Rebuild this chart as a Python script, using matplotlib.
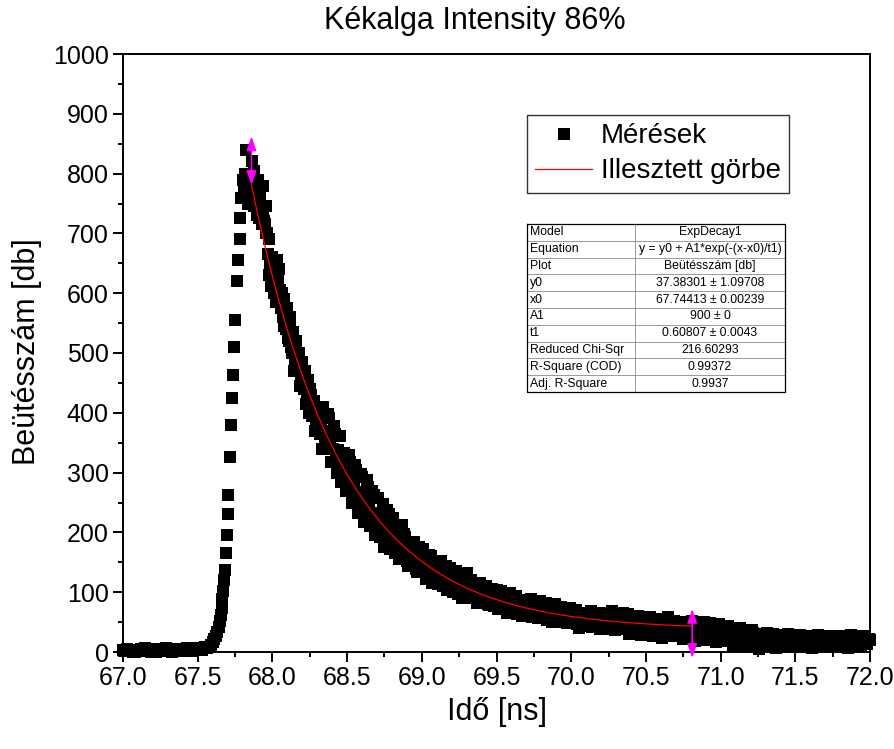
import numpy as np
import matplotlib
matplotlib.use("Agg")
import matplotlib.pyplot as plt
from matplotlib.lines import Line2D
from matplotlib.patches import ArrowStyle

plt.rcParams['font.family'] = ['Liberation Sans', 'DejaVu Sans']

# ---------------- data ----------------
title = "Kékalga Intensity 86%"
xlabel = "Idő [ns]"
ylabel = "Beütésszám [db]"

# baseline: 67.00 .. 67.56, step 0.02 ns
base_start, base_step = 67.00, 0.02
base_counts = [3, 1, 4, 2, 0, 3, 5, 2, 1, 4, 3, 0, 2, 5, 3, 1, 4, 2, 3, 5,
               2, 4, 3, 2, 4, 5, 6, 6, 7]
# baseline, interleaved channels: 67.01 .. 67.57
base2_start = 67.01
base2_counts = [1, 5, 2, 0, 4, 1, 3, 6, 2, 0, 5, 2, 4, 1, 6, 3, 0, 5, 2, 1,
                4, 6, 1, 5, 3, 7, 4, 8, 9]

# rising edge and peak (explicit times)
peak_times = [67.58, 67.59, 67.60, 67.61, 67.62, 67.63, 67.64, 67.65,
              67.655, 67.66, 67.665, 67.67, 67.675, 67.68,
              67.69, 67.695, 67.70, 67.705,
              67.715, 67.72, 67.728, 67.733,
              67.74, 67.75, 67.76, 67.77, 67.78,
              67.785, 67.79, 67.80, 67.81, 67.815, 67.823,
              67.83, 67.84, 67.85, 67.863,
              67.87, 67.88, 67.89, 67.90,
              67.91, 67.92, 67.93, 67.94, 67.95, 67.96, 67.97, 67.98, 67.99,
              68.00, 68.01, 68.02, 68.03, 68.04, 68.05, 68.06, 68.07, 68.08, 68.09,
              68.10, 68.11, 68.12, 68.13, 68.14, 68.15, 68.16, 68.17, 68.18, 68.19,
              68.20, 68.21, 68.22, 68.23, 68.24, 68.25, 68.26, 68.27, 68.28, 68.29,
              68.30]
peak_counts = [8, 12, 16, 21, 27, 34, 42, 52,
               62, 74, 88, 102, 120, 137,
               165, 195, 230, 262,
               326, 380, 425, 463,
               510, 555, 620, 655, 690,
               725, 760, 790, 770, 800, 839,
               785, 750, 795, 821,
               770, 745, 785, 755,
               725, 770, 715, 735, 715, 700, 665, 630, 612,
               640, 600, 650, 655, 590, 605, 575, 560, 590, 540,
               555, 520, 545, 500, 515, 490, 505, 470, 495, 455,
               480, 440, 465, 430, 445, 410, 430, 400, 420, 385,
               405]

# peak, interleaved channels: 67.845 .. 68.315, step 0.01 ns
peak2_start, peak2_step = 67.845, 0.01
peak2_counts = [800, 770, 760, 805, 790, 730, 790, 750, 740, 780,
                720, 745, 700, 690, 650, 660, 615, 635, 585, 620,
                640, 580, 600, 545, 570, 575, 525, 560, 510, 535,
                470, 520, 480, 500, 445, 485, 450, 470, 415, 455,
                400, 440, 395, 415, 370, 410, 380, 395]

# decay tail: 68.32 .. 72.00, step 0.02 ns
tail_start, tail_step = 68.32, 0.02
tail_counts = [365, 410, 345, 392, 318, 365, 338, 285, 332, 272,
               318, 255, 305, 242, 292, 230, 276, 210, 262, 228,
               192, 248, 183, 230, 214, 166, 212, 160, 198, 152,
               184, 170, 138, 175, 134, 162, 125, 160, 123, 152,
               138, 110, 143, 106, 134, 125, 97, 129, 96, 132,
               118, 90, 112, 86, 108, 104, 80, 101, 77, 103,
               95, 72, 92, 70, 90, 84, 64, 87, 62, 84,
               79, 58, 80, 57, 76, 72, 54, 70, 52, 68,
               66, 50, 72, 51, 64, 60, 47, 63, 45, 61,
               58, 42, 60, 44, 57, 55, 39, 56, 40, 62,
               50, 38, 55, 63, 36, 52, 34, 50, 48, 32,
               50, 30, 48, 28, 47, 45, 30, 52, 33, 46,
               27, 44, 31, 46, 29, 44, 25, 42, 30, 45,
               22, 43, 28, 46, 24, 44, 18, 40, 12, 38,
               25, 35, 20, 34, 14, 31, 22, 5, 30, 18,
               28, 12, 27, 16, 26, 10, 25, 17, 27, 9,
               24, 15, 26, 11, 23, 8, 24, 14, 22, 12,
               26, 16, 21, 9, 24, 13, 25, 10, 22, 15,
               24, 11, 21, 14, 20]

# decay tail, interleaved channels: 68.33 .. 71.99, step 0.02 ns
tail2_start = 68.33
tail2_counts = [340, 348, 398, 318, 378, 300, 362, 330, 270, 330,
                250, 312, 232, 298, 218, 288, 210, 270, 195, 258,
                230, 176, 238, 172, 224, 204, 156, 212, 192, 144,
                150, 184, 133, 140, 172, 122, 162, 116, 150, 113,
                152, 116, 104, 140, 100, 135, 118, 91, 121, 94,
                120, 94, 82, 116, 84, 110, 78, 106, 95, 72,
                102, 82, 66, 98, 68, 93, 75, 60, 86, 64,
                88, 62, 69, 86, 58, 82, 64, 50, 80, 56,
                76, 58, 49, 73, 54, 70, 40, 66, 52, 44,
                68, 48, 52, 38, 66, 44, 50, 68, 36, 56,
                42, 66, 40, 30, 58, 44, 60, 28, 54, 40,
                58, 26, 42, 55, 24, 48, 58, 27, 52, 38,
                50, 22, 48, 36, 52, 18, 46, 34, 50, 20,
                48, 30, 16, 47, 35, 20, 44, 26, 30, 15,
                40, 10, 32, 24, 36, 8, 28, 20, 12, 32,
                18, 30, 6, 28, 20, 12, 30, 8, 24, 20,
                28, 10, 22, 27, 6, 20, 29, 12, 25, 18,
                8, 27, 18, 26, 12, 22, 7, 28, 14, 25,
                10, 26, 16, 22]

# decay, channels near the band centre: 68.325 .. 69.505, step 0.02 ns
tail3_start = 68.325
tail3_counts = [384, 370, 362, 348, 340, 328, 321, 308, 302, 292,
                285, 276, 268, 262, 252, 246, 238, 232, 225, 220,
                214, 208, 204, 197, 193, 187, 183, 176, 173, 169,
                165, 160, 158, 152, 150, 145, 143, 138, 135, 133,
                129, 127, 123, 121, 118, 116, 112, 110, 107, 105,
                104, 101, 99, 96, 95, 93, 91, 89, 88, 86]

# fit parameters (ExpDecay1)
fit_y0, fit_x0, fit_A1, fit_t1 = 37.38301, 67.74413, 900.0, 0.60807
fit_range = (67.86, 70.81)
marker_top = (862, 72)
marker_bottom = (781, -10)

legend_labels = ["Mérések", "Illesztett görbe"]

table_rows = [
    ("Model", "ExpDecay1"),
    ("Equation", "y = y0 + A1*exp(-(x-x0)/t1)"),
    ("Plot", "Beütésszám [db]"),
    ("y0", "37.38301 ± 1.09708"),
    ("x0", "67.74413 ± 0.00239"),
    ("A1", "900 ± 0"),
    ("t1", "0.60807 ± 0.0043"),
    ("Reduced Chi-Sqr", "216.60293"),
    ("R-Square (COD)", "0.99372"),
    ("Adj. R-Square", "0.9937"),
]

# ---------------- assemble ----------------
t_base = base_start + base_step * np.arange(len(base_counts))
t_base2 = base2_start + base_step * np.arange(len(base2_counts))
t_peak2 = peak2_start + peak2_step * np.arange(len(peak2_counts))
t_tail = tail_start + tail_step * np.arange(len(tail_counts))
t_tail2 = tail2_start + tail_step * np.arange(len(tail2_counts))
t_tail3 = tail3_start + tail_step * np.arange(len(tail3_counts))
t_all = np.concatenate([t_base, t_base2, np.array(peak_times), t_peak2,
                        t_tail, t_tail2, t_tail3])
v_all = np.concatenate([base_counts, base2_counts, peak_counts, peak2_counts,
                        tail_counts, tail2_counts, tail3_counts])

W, H = 895, 749
fig = plt.figure(figsize=(W / 100, H / 100), dpi=100)
ax = fig.add_axes([123 / W, 1 - 652 / H, 747 / W, 598 / H])

ax.plot(t_all, v_all, linestyle='none', marker='s', ms=9.3, mew=0,
        color='black', clip_on=False, zorder=3)

tf = np.linspace(fit_range[0], fit_range[1], 400)
yf = fit_y0 + fit_A1 * np.exp(-(tf - fit_x0) / fit_t1)
ax.plot(tf, yf, color='#ff0000', lw=0.9, zorder=4)

astyle = ArrowStyle('<|-|>', head_length=0.85, head_width=0.3)
for xm, top, bot in zip(fit_range, marker_top, marker_bottom):
    ax.annotate('', xy=(xm, top), xytext=(xm, bot),
                arrowprops=dict(arrowstyle=astyle, color='#ff00ff', lw=1.1,
                                mutation_scale=10, shrinkA=0, shrinkB=0),
                annotation_clip=False, zorder=5)

ax.set_xlim(67, 72)
ax.set_ylim(0, 1000)
ax.set_xticks(np.arange(67, 72.01, 0.5))
ax.set_xticks(np.arange(67, 72.01, 0.25), minor=True)
ax.set_yticks(np.arange(0, 1001, 100))
ax.set_yticks(np.arange(0, 1001, 50), minor=True)
ax.set_xticklabels([f"{v:.1f}" for v in np.arange(67, 72.01, 0.5)])
ax.tick_params(which='major', direction='out', length=7.2, width=1.4,
               labelsize=18, pad=3, top=False, right=False)
ax.tick_params(which='minor', direction='out', length=3.8, width=1.4,
               top=False, right=False)
for s in ax.spines.values():
    s.set_linewidth(1.4)

fig.text(475 / W, 1 - 21 / H, title, ha='center', va='center', fontsize=22)
fig.text(497 / W, 1 - 712 / H, xlabel, ha='center', va='center', fontsize=22)
fig.text(27 / W, 1 - 352 / H, ylabel, ha='center', va='center', fontsize=22,
         rotation=90)

# legend
handles = [Line2D([], [], linestyle='none', marker='s', ms=9, mew=0, color='black'),
           Line2D([], [], color='#ff0000', lw=0.9)]
leg = fig.legend(handles, legend_labels, loc='upper left',
                 bbox_to_anchor=(527 / W, 1 - 115 / H), bbox_transform=fig.transFigure,
                 fontsize=20, frameon=True, fancybox=False, shadow=False,
                 borderpad=0.3, labelspacing=0.32, handlelength=2.05,
                 handletextpad=0.3, borderaxespad=0)
leg.get_frame().set_edgecolor('black')
leg.get_frame().set_linewidth(1.0)

# parameter table
tx0, ty0, tx1, ty1 = 527, 224, 785, 392
tab = fig.add_axes([tx0 / W, 1 - ty1 / H, (tx1 - tx0) / W, (ty1 - ty0) / H])
tab.set_xlim(0, 1)
n = len(table_rows)
tab.set_ylim(n, 0)
tab.axis('off')
tab.add_patch(plt.Rectangle((0, 0), 1, n, facecolor='white', edgecolor='none', zorder=0))
split = (635 - tx0) / (tx1 - tx0)
for i in range(1, n):
    tab.plot([0, 1], [i, i], color='#8a8a8a', lw=0.6)
tab.plot([split, split], [0, n], color='#8a8a8a', lw=0.6)
tab.plot([0, 1, 1, 0, 0], [0, 0, n, n, 0], color='black', lw=0.9, clip_on=False)
for i, (k, v) in enumerate(table_rows):
    tab.text(0.012, i + 0.5, k, ha='left', va='center', fontsize=8.8)
    tab.text((split + 1) / 2, i + 0.5, v, ha='center', va='center', fontsize=8.8)

fig.savefig("out.png", dpi=100)
